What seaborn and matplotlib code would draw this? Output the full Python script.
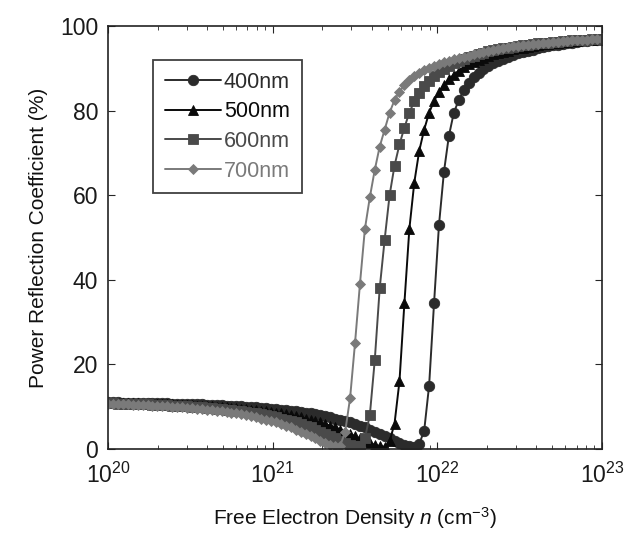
import numpy as np
import pandas as pd
import matplotlib
matplotlib.use("Agg")
import matplotlib.pyplot as plt
import seaborn as sns

# ---- data ----
log_n = [
    20.00, 20.03, 20.06, 20.09, 20.12, 20.15, 20.18, 20.21, 20.24, 20.27,
    20.30, 20.33, 20.36, 20.39, 20.42, 20.45, 20.48, 20.51, 20.54, 20.57,
    20.60, 20.63, 20.66, 20.69, 20.72, 20.75, 20.78, 20.81, 20.84, 20.87,
    20.90, 20.93, 20.96, 20.99, 21.02, 21.05, 21.08, 21.11, 21.14, 21.17,
    21.20, 21.23, 21.26, 21.29, 21.32, 21.35, 21.38, 21.41, 21.44, 21.47,
    21.50, 21.53, 21.56, 21.59, 21.62, 21.65, 21.68, 21.71, 21.74, 21.77,
    21.80, 21.83, 21.86, 21.89, 21.92, 21.95, 21.98, 22.01, 22.04, 22.07,
    22.10, 22.13, 22.16, 22.19, 22.22, 22.25, 22.28, 22.31, 22.34, 22.37,
    22.40, 22.43, 22.46, 22.49, 22.52, 22.55, 22.58, 22.61, 22.64, 22.67,
    22.70, 22.73, 22.76, 22.79, 22.82, 22.85, 22.88, 22.91, 22.94, 22.97,
    23.00,
]

r_400 = [
    11.0, 11.0, 11.0, 10.95, 10.95, 10.95, 10.9, 10.9, 10.9, 10.85,
    10.85, 10.8, 10.8, 10.75, 10.7, 10.7, 10.65, 10.6, 10.6, 10.55,
    10.5, 10.45, 10.4, 10.3, 10.25, 10.2, 10.1, 10.05, 10.0, 9.9,
    9.85, 9.75, 9.65, 9.55, 9.45, 9.3, 9.2, 9.05, 8.9, 8.75,
    8.55, 8.4, 8.2, 8.0, 7.75, 7.5, 7.2, 6.9, 6.6, 6.3,
    5.9, 5.5, 5.1, 4.6, 4.1, 3.6, 3.0, 2.5, 1.9, 1.4,
    1.0, 0.7, 0.5, 1.2, 4.3, 15.0, 34.5, 53.0, 65.5, 74.0,
    79.5, 82.5, 84.8, 86.5, 88.0, 89.0, 89.9, 90.6, 91.2, 91.8,
    92.3, 92.7, 93.1, 93.5, 93.8, 94.1, 94.4, 94.7, 95.0, 95.2,
    95.4, 95.6, 95.8, 96.0, 96.1, 96.3, 96.4, 96.5, 96.6, 96.7,
    96.8,
]

r_500 = [
    10.9, 10.9, 10.9, 10.85, 10.85, 10.8, 10.8, 10.75, 10.7, 10.7,
    10.65, 10.6, 10.6, 10.55, 10.5, 10.45, 10.4, 10.3, 10.25, 10.2,
    10.1, 10.05, 10.0, 9.9, 9.85, 9.75, 9.65, 9.55, 9.45, 9.3,
    9.2, 9.05, 8.9, 8.75, 8.55, 8.4, 8.2, 8.0, 7.75, 7.5,
    7.2, 6.9, 6.6, 6.3, 5.9, 5.5, 5.1, 4.6, 4.1, 3.6,
    3.0, 2.5, 1.9, 1.4, 1.0, 0.7, 0.5, 1.8, 6.0, 16.0,
    34.5, 52.0, 63.0, 70.5, 75.5, 79.5, 82.3, 84.4, 86.1, 87.4,
    88.5, 89.4, 90.2, 90.9, 91.5, 92.0, 92.5, 92.9, 93.3, 93.6,
    93.9, 94.2, 94.5, 94.7, 94.9, 95.1, 95.3, 95.5, 95.7, 95.8,
    96.0, 96.1, 96.2, 96.3, 96.4, 96.5, 96.6, 96.7, 96.8, 96.85,
    96.9,
]

r_600 = [
    10.8, 10.8, 10.75, 10.7, 10.7, 10.65, 10.6, 10.6, 10.55, 10.5,
    10.45, 10.4, 10.3, 10.25, 10.2, 10.1, 10.05, 10.0, 9.9, 9.85,
    9.75, 9.65, 9.55, 9.45, 9.3, 9.2, 9.05, 8.9, 8.75, 8.55,
    8.4, 8.2, 8.0, 7.75, 7.5, 7.2, 6.9, 6.6, 6.3, 5.9,
    5.5, 5.1, 4.6, 4.1, 3.6, 3.0, 2.5, 1.9, 1.4, 1.0,
    0.7, 0.6, 2.5, 8.0, 21.0, 38.0, 49.5, 60.0, 67.0, 72.0,
    76.0, 79.5, 82.2, 84.2, 85.8, 87.1, 88.2, 89.1, 89.9, 90.6,
    91.2, 91.7, 92.2, 92.6, 93.0, 93.4, 93.7, 94.0, 94.3, 94.5,
    94.7, 94.9, 95.1, 95.3, 95.5, 95.6, 95.75, 95.9, 96.0, 96.1,
    96.2, 96.3, 96.4, 96.5, 96.6, 96.65, 96.7, 96.8, 96.85, 96.9,
    96.95,
]

r_700 = [
    10.7, 10.65, 10.6, 10.6, 10.55, 10.5, 10.45, 10.4, 10.3, 10.25,
    10.2, 10.1, 10.05, 10.0, 9.9, 9.85, 9.75, 9.65, 9.55, 9.45,
    9.3, 9.2, 9.05, 8.9, 8.75, 8.55, 8.4, 8.2, 8.0, 7.75,
    7.5, 7.2, 6.9, 6.6, 6.3, 5.9, 5.5, 5.1, 4.6, 4.1,
    3.6, 3.0, 2.5, 1.9, 1.4, 1.0, 0.8, 0.8, 4.0, 12.0,
    25.0, 39.0, 52.0, 59.5, 66.0, 71.5, 75.5, 79.5, 82.5, 84.5,
    86.0, 87.2, 88.1, 88.9, 89.6, 90.1, 90.6, 91.0, 91.4, 91.8,
    92.1, 92.4, 92.7, 93.0, 93.3, 93.6, 93.9, 94.1, 94.4, 94.6,
    94.8, 95.0, 95.2, 95.3, 95.5, 95.6, 95.7, 95.85, 96.0, 96.1,
    96.2, 96.3, 96.4, 96.5, 96.6, 96.7, 96.75, 96.8, 96.9, 96.95,
    97.0,
]

labels = ["400nm", "500nm", "600nm", "700nm"]
x_ticks = [1e20, 1e21, 1e22, 1e23]
x_tick_labels = [r"$\mathregular{10^{20}}$", r"$\mathregular{10^{21}}$",
                 r"$\mathregular{10^{22}}$", r"$\mathregular{10^{23}}$"]
y_ticks = [0, 20, 40, 60, 80, 100]

# ---- build long-form table ----
series = [r_400, r_500, r_600, r_700]
frames = []
for lab, vals in zip(labels, series):
    frames.append(pd.DataFrame({"n": np.power(10.0, log_n), "R": vals, "wl": lab}))
df = pd.concat(frames, ignore_index=True)

# ---- style ----
sns.set_style("ticks")
plt.rcParams["font.family"] = ["Liberation Sans", "DejaVu Sans"]
plt.rcParams["mathtext.fontset"] = "custom"
plt.rcParams["mathtext.rm"] = "Liberation Sans"
plt.rcParams["mathtext.it"] = "Liberation Sans:italic"

fig = plt.figure(figsize=(6.3, 5.34), dpi=100)
ax = fig.add_axes([0.1714, 0.1592, 0.7842, 0.7921])

colors = ["#2b2b2b", "#0a0a0a", "#4a4a4a", "#7a7a7a"]
markers = ["o", "^", "s", "D"]
msizes = [7.5, 6.8, 7.2, 5.0]

sns.lineplot(data=df, x="n", y="R", hue="wl", style="wl",
             hue_order=labels, style_order=labels,
             palette=colors, markers=markers, dashes=False,
             linewidth=1.4, markeredgewidth=0.6, ax=ax, legend=True)

# per-series marker sizes and edge colours
for line, ms, c in zip(ax.lines, msizes, colors):
    line.set_markersize(ms)
    line.set_markeredgecolor(c)

ax.set_xscale("log")
ax.set_xlim(1e20, 1e23)
ax.set_ylim(0, 100)
ax.set_xticks(x_ticks)
ax.set_xticklabels(x_tick_labels)
ax.set_yticks(y_ticks)
ax.tick_params(axis="both", which="major", direction="in", length=5,
               labelsize=16.5, top=True, right=True, width=0.8,
               labelcolor="#1a1a1a")
ax.tick_params(axis="x", which="major", pad=10)
ax.tick_params(axis="y", which="major", pad=7)
ax.tick_params(axis="both", which="minor", direction="in", length=3,
               top=True, right=True, width=0.6)
for sp in ax.spines.values():
    sp.set_linewidth(1.2)
    sp.set_color("#222222")

ax.set_xlabel(r"Free Electron Density $\mathit{n}$ (cm$^{\mathregular{-3}}$)",
              fontsize=15, labelpad=12, color="#111111")
ax.set_ylabel("Power Reflection Coefficient (%)", fontsize=15,
              labelpad=9, color="#111111")

handles, labs = ax.get_legend_handles_labels()
for h, ms, c in zip(handles, msizes, colors):
    h.set_markersize(ms)
    h.set_markeredgecolor(c)
leg = ax.legend(handles, labs, loc="upper left", bbox_to_anchor=(0.091, 0.92),
                borderaxespad=0, frameon=True, fancybox=False,
                fontsize=15.5, handlelength=2.6, handletextpad=0.15,
                labelspacing=0.4, borderpad=0.55, title=None)
leg.get_frame().set_edgecolor("#111111")
leg.get_frame().set_linewidth(1.3)
for t, c in zip(leg.get_texts(), colors):
    t.set_color(c)

fig.savefig("out.png", dpi=100, facecolor="white")
